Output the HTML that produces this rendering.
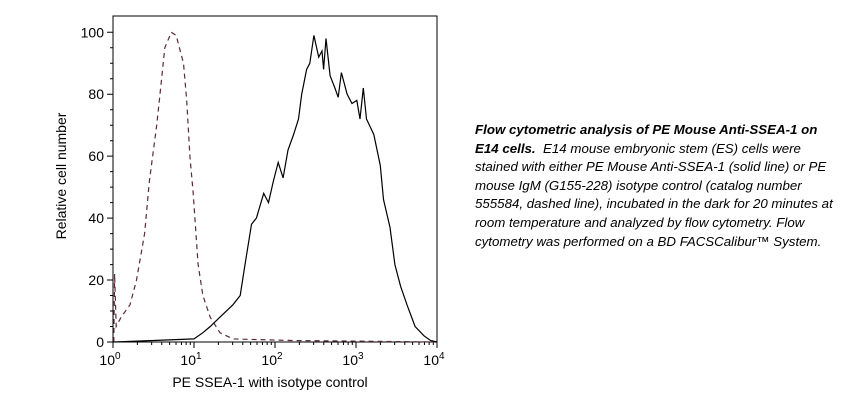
<!DOCTYPE html>
<html><head><meta charset="utf-8"><style>
body{margin:0;background:#fff;width:863px;height:400px;overflow:hidden;font-family:"Liberation Sans",sans-serif}
#cap{position:absolute;left:475px;top:121px;font-size:13.3px;line-height:18.6px;font-style:italic;color:#000;white-space:nowrap}
</style></head><body>
<svg id="chart" width="863" height="400" style="position:absolute;left:0;top:0" font-family="Liberation Sans, sans-serif"></svg>
<div id="cap"><b>Flow cytometric analysis of PE Mouse Anti-SSEA-1 on<br>E14 cells.</b>&nbsp; E14 mouse embryonic stem (ES) cells were<br>stained with either PE Mouse Anti-SSEA-1 (solid line) or PE<br>mouse IgM (G155-228) isotype control (catalog number<br>555584, dashed line), incubated in the dark for 20 minutes at<br>room temperature and analyzed by flow cytometry. Flow<br>cytometry was performed on a BD FACSCalibur™ System.</div>
<script>
const yTicks=[0,20,40,60,80,100];
const xDecades=[0,1,2,3,4];
const solidLog=[0,0.5,1.0,1.11,1.2,1.32,1.48,1.57,1.63,1.71,1.77,1.86,1.92,1.98,2.04,2.1,2.16,2.23,2.29,2.33,2.39,2.43,2.48,2.54,2.58,2.6,2.63,2.68,2.74,2.78,2.82,2.89,2.95,3.01,3.05,3.09,3.13,3.22,3.3,3.34,3.42,3.48,3.55,3.63,3.73,3.84,3.92,4.0];
const solidVal=[0,0.5,1,3,5,8,12,15,25,38,40,48,45,52,58,53,62,67,72,80,88,90,99,92,94,88,98,86,82,79,87,80,77,78,72,82,72,67,57,46,37,25,18,12,5,2,0.5,0];
const dashLog=[0.01,0.02,0.04,0.1,0.21,0.29,0.39,0.45,0.54,0.58,0.64,0.72,0.78,0.87,0.91,0.95,0.99,1.05,1.11,1.2,1.32,1.48,2.2,3.0,4.0];
const dashVal=[0,22,5,8,12,20,35,52,70,80,95,100,99,90,78,60,48,25,15,8,3,1,0.5,0.3,0];
const L=113,R=437,T=16,B=342,Y100=32.3;
const sx=v=>L+(R-L)*v/4, sy=v=>B-(B-Y100)*v/100;
const svg=document.getElementById('chart');const NS='http://www.w3.org/2000/svg';
function mk(t,a,p){const e=document.createElementNS(NS,t);for(const k in a)e.setAttribute(k,a[k]);(p||svg).appendChild(e);return e;}
const frame=mk('rect',{x:L,y:T,width:R-L,height:B-T,fill:'none',stroke:'#000','stroke-width':1});


let tk='';
for(let v=0;v<=100;v+=5){const y=sy(v);tk+=`M${L} ${y}h${v%20==0?-6:-3}`;}
for(const d of xDecades){tk+=`M${sx(d)} ${B}v6`;if(d<4)for(let m=2;m<10;m++){tk+=`M${sx(d+Math.log10(m))} ${B}v3`;}}
const ticks=mk('path',{d:tk,stroke:'#000','stroke-width':1,fill:'none'});


for(const v of yTicks){const t=mk('text',{x:L-9,y:sy(v)+5,'text-anchor':'end','font-size':14});t.textContent=v;

}
for(const d of xDecades){const t=mk('text',{x:sx(d)-3,y:B+23,'text-anchor':'middle','font-size':14});t.innerHTML='10<tspan dy="-6" font-size="10">'+d+'</tspan>';

}
const xt=mk('text',{x:(L+R)/2-5,y:387,'text-anchor':'middle','font-size':14});xt.textContent='PE SSEA-1 with isotype control';


const yt=mk('text',{x:0,y:0,'text-anchor':'middle','font-size':14,transform:`translate(66,${(T+B)/2-3}) rotate(-90)`});yt.textContent='Relative cell number';


const pts=(xs,ys)=>xs.map((x,i)=>sx(x).toFixed(1)+','+sy(ys[i]).toFixed(1)).join(' ');
const dl=mk('polyline',{points:pts(dashLog,dashVal),fill:'none',stroke:'#5a2a3a','stroke-width':1.2,'stroke-dasharray':'5,4'});


const sl=mk('polyline',{points:pts(solidLog,solidVal),fill:'none',stroke:'#000','stroke-width':1.2});


</script>
</body></html>
